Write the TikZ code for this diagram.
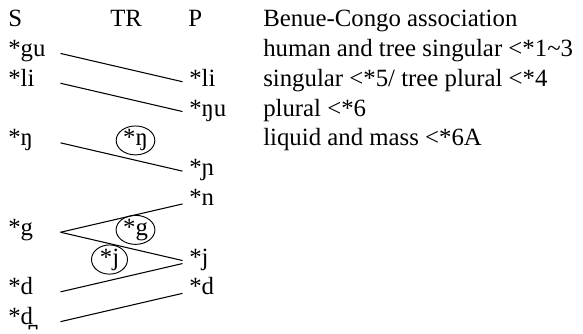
\documentclass[tikz,border=0pt]{standalone}
\usepackage{fontspec}
\setmainfont{Liberation Serif}
\usetikzlibrary{shapes.geometric}

\begin{document}
\begin{tikzpicture}[
  x=0.75pt, y=-0.75pt,
  every node/.style={font=\fontsize{18.6}{22}\selectfont, inner sep=0pt},
  form/.style={anchor=base west},
  % fixed width so that every link leaves the S column at the same x
  src/.style={form, text width=39pt},
  tag/.style={draw, ellipse, anchor=base, line width=0.7pt, inner xsep=1pt, inner ysep=-0.4pt, minimum width=27pt},
  link/.style={line width=0.8pt, shorten >=5pt},
]
\useasboundingbox (0,0) rectangle (583,333);

% column heads
\node[form] (hS) at (8,26.7) {S};
\node[form] (hTR) at (110,26.7) {TR};
\node[form] (hP) at (188,26.7) {P};

% S column
\node[src] (s1) at (8,56.5) {*gu};
\node[src] (s2) at (8,86.3) {*li};
\node[src] (s4) at (8,145.9) {*ŋ};
\node[src] (s7) at (8,235.3) {*g};
\node[src] (s9) at (8,294.9) {*d};
\node[src] (s10) at (8,324.7) {*d̪};

% P column
\node[form] (p2) at (189,86.3) {*li};
\node[form] (p3) at (189,116.1) {*ŋu};
\node[form] (p5) at (189,175.7) {*ɲ};
\node[form] (p6) at (189,205.5) {*n};
\node[form] (p8) at (189,265.1) {*j};
\node[form] (p9) at (189,294.9) {*d};

% TR forms
\node[tag] (tng) at (135.5,145.9) {*ŋ};
\node[tag] (tg) at (135.5,235.3) {*g};
\node[tag] (tj) at (109.5,265.1) {*j};

% Benue-Congo column
\foreach \txt [count=\k from 0] in {Benue-Congo association,
    human and tree singular <*1\string~3,
    singular <*5/ tree plural <*4,
    plural <*6,
    liquid and mass <*6A}
  \node[form] (bc\k) at (263,{26.7+29.8*\k}) {\txt};

% links
\draw[link] (s1.mid east) -- (p2.mid west);
\draw[link] (s2.mid east) -- (p3.mid west);
\draw[link] (s4.mid east) -- (p5.mid west);
\draw[link] (s7.mid east) -- (p6.mid west);
\draw[link] (s7.mid east) -- (p8.mid west);
\draw[link] (s9.mid east) -- (p8.mid west);
\draw[link] (s10.mid east) -- (p9.mid west);

\end{tikzpicture}
\end{document}
